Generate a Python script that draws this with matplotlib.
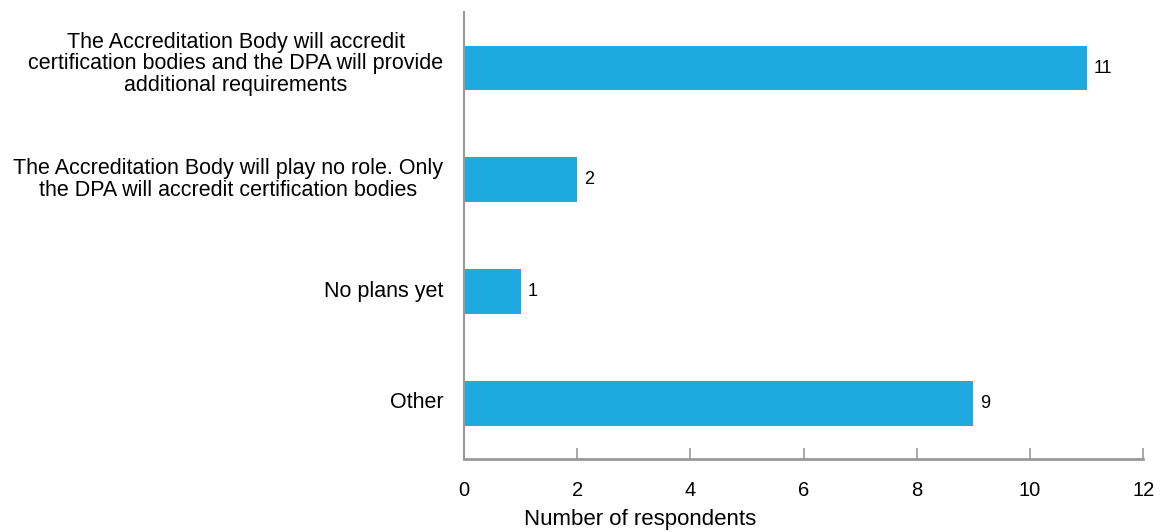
import matplotlib.pyplot as plt
import matplotlib.transforms as mtransforms

categories = [
    "The Accreditation Body will accredit\ncertification bodies and the DPA will provide\nadditional requirements",
    "The Accreditation Body will play no role. Only\nthe DPA will accredit certification bodies",
    "No plans yet",
    "Other",
]
values = [11, 2, 1, 9]
xticks = [0, 2, 4, 6, 8, 10, 12]

plt.rcParams['font.family'] = ['Liberation Sans', 'DejaVu Sans']

fig = plt.figure(figsize=(11.69, 5.32), dpi=100)
ax = fig.add_axes([0.397, 0.137, 0.581, 0.840])

pos = list(range(len(categories)))
ax.barh(pos, values, height=0.4, color='#1EAAE1')
for p, v in zip(pos, values):
    ax.text(v + 0.12, p, str(v), va='center', ha='left', fontsize=13)

ax.set_ylim(len(categories) - 0.5, -0.5)
ax.set_xlim(0, 12)
ax.set_xticks(xticks)
ax.set_yticks(pos)
ax.set_yticklabels(categories, fontsize=15.5, multialignment='center', linespacing=1.05)
ax.tick_params(axis='y', length=0, pad=15)
ax.tick_params(axis='x', direction='in', length=8, width=1.2, color='#999999',
               labelsize=14.5, pad=16)

# nudge category labels up a little (first one more)
for i, lab in enumerate(ax.get_yticklabels()):
    dy = 7 if i == 0 else 3
    off = mtransforms.ScaledTranslation(0, dy / 100, fig.dpi_scale_trans)
    lab.set_transform(lab.get_transform() + off)

for s in ['top', 'right']:
    ax.spines[s].set_visible(False)
ax.spines['left'].set_color('#999999')
ax.spines['left'].set_linewidth(1.5)
ax.spines['bottom'].set_color('#999999')
ax.spines['bottom'].set_linewidth(2)

fig.text(0.548, 0.004, "Number of respondents", fontsize=16, ha='center', va='bottom')

fig.savefig('out.png', dpi=100)
